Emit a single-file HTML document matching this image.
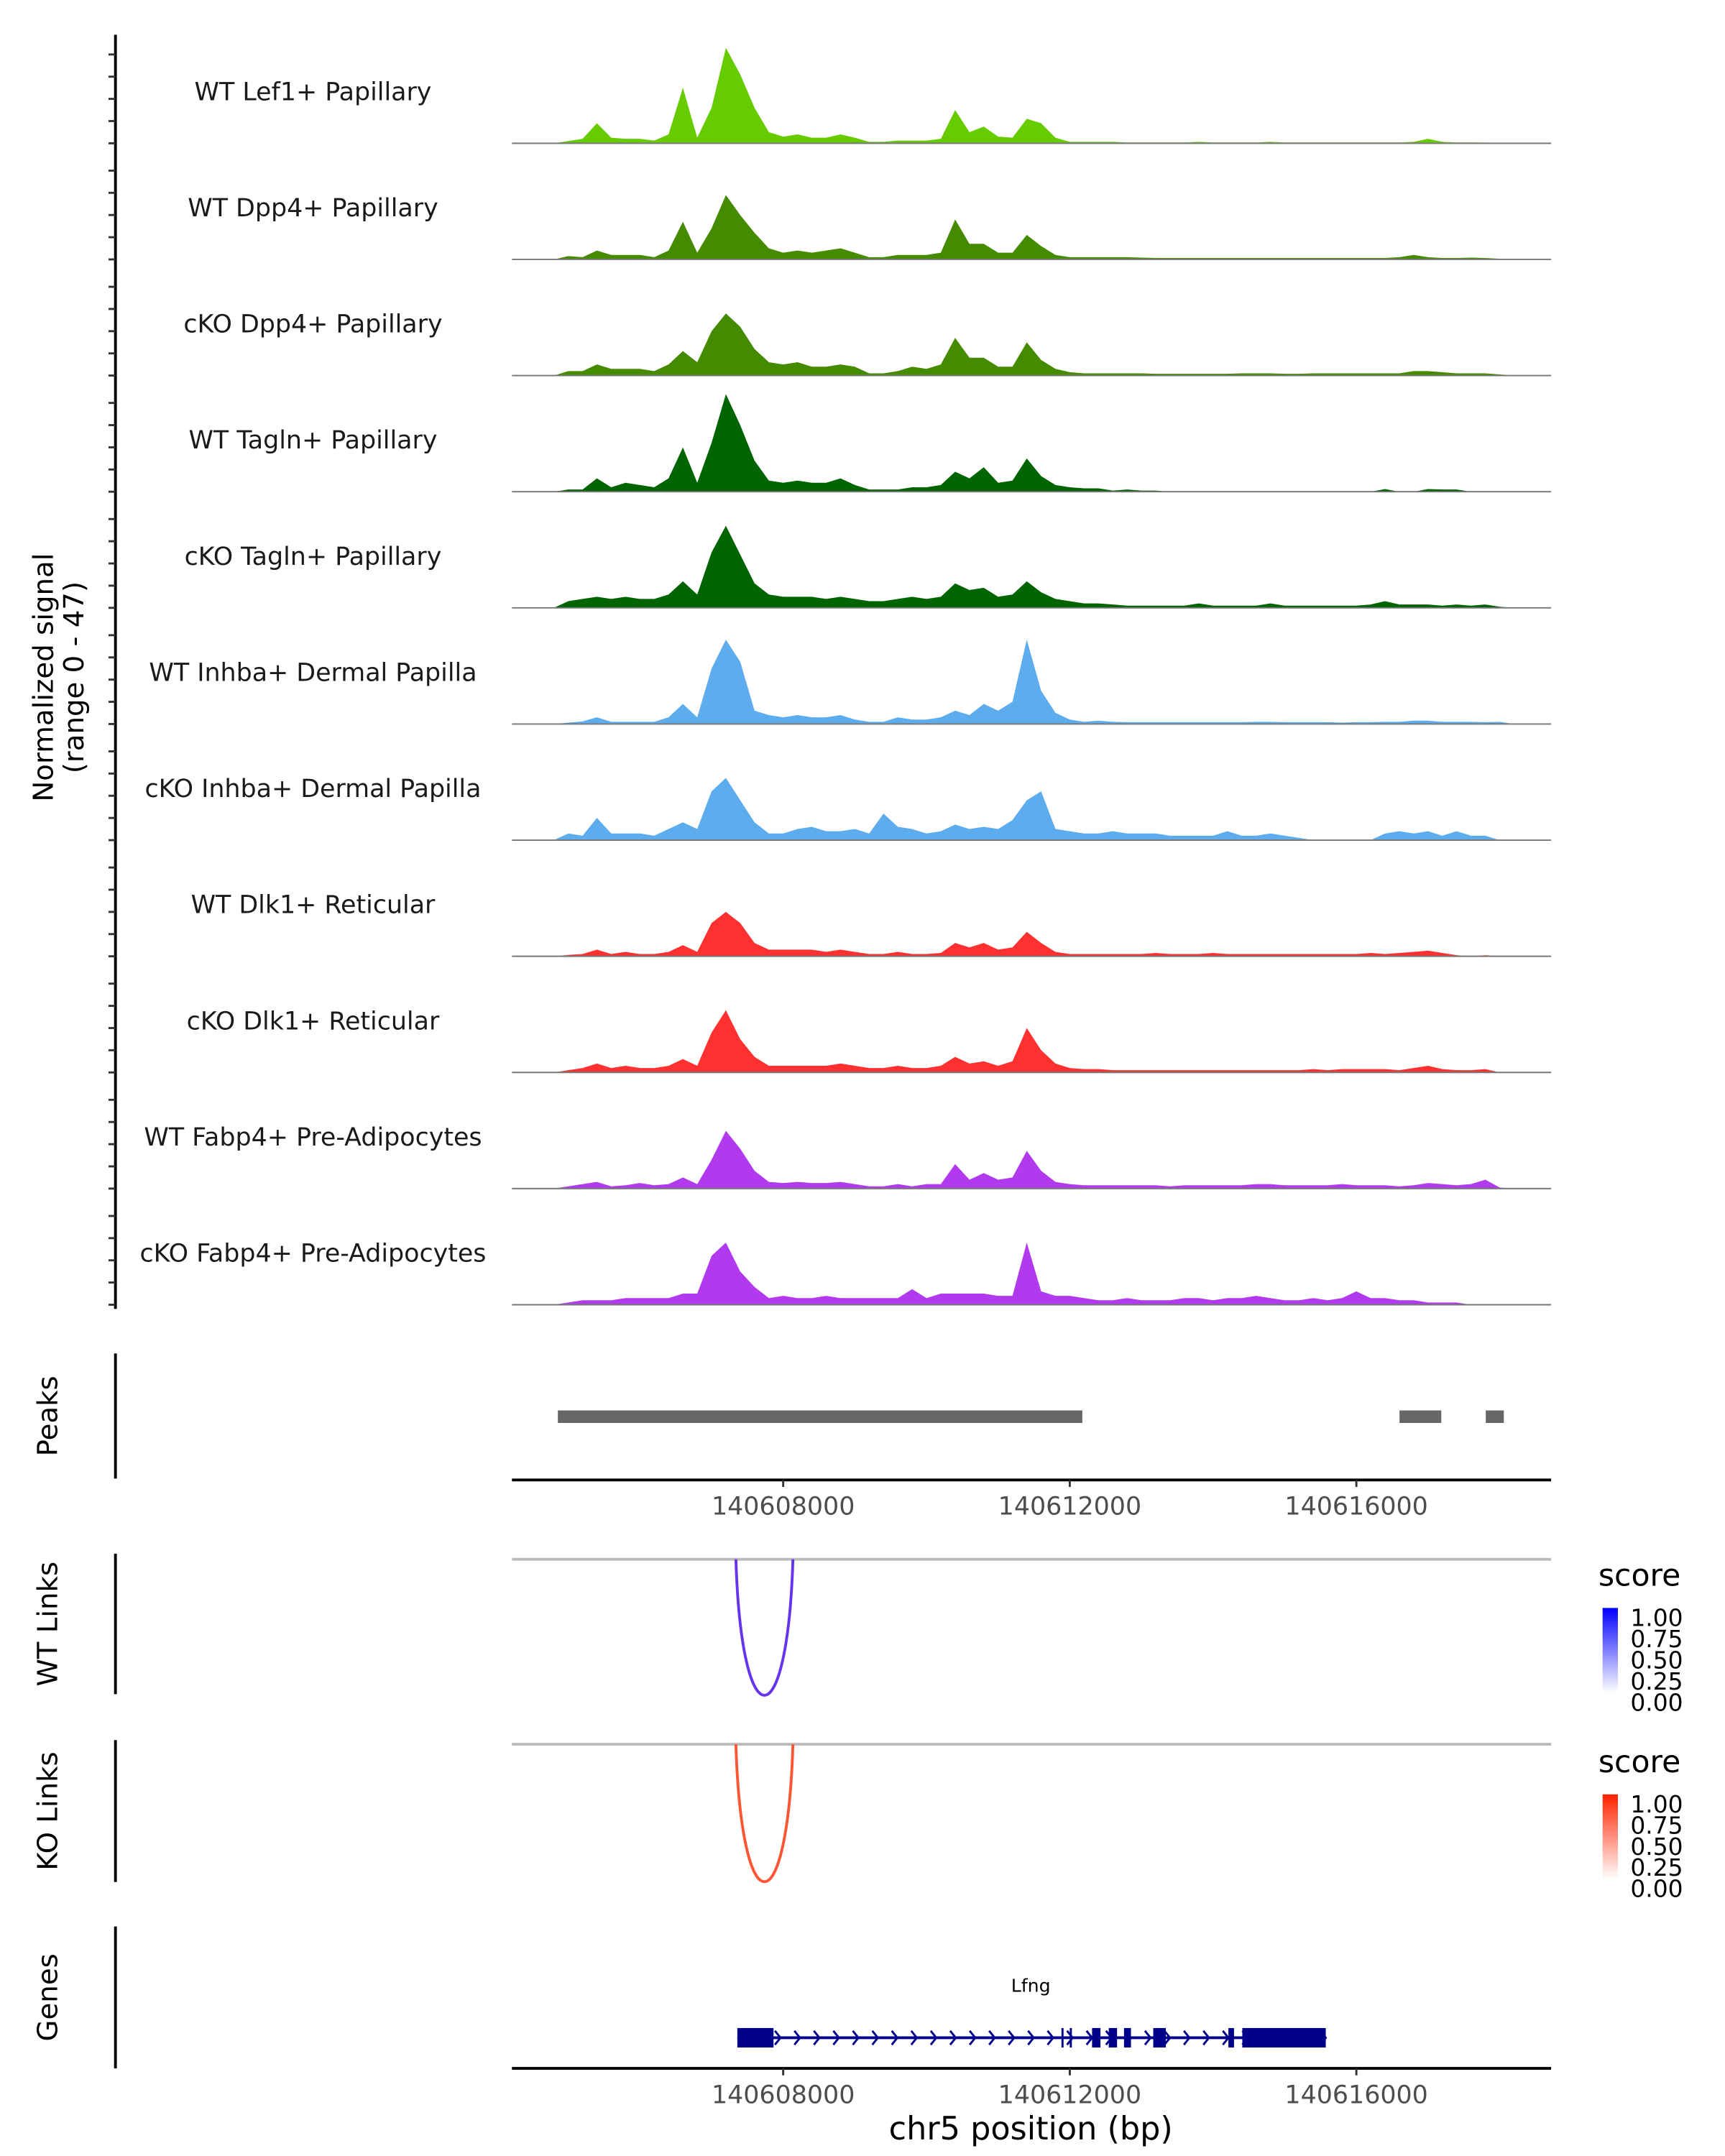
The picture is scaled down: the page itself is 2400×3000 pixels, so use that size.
<!DOCTYPE html>
<html><head><meta charset="utf-8"><title>Lfng coverage plot</title>
<style>html,body{margin:0;padding:0;background:#fff}svg{display:block}text{font-family:"DejaVu Sans","Liberation Sans",sans-serif}</style>
</head><body>
<svg id="chart" xmlns="http://www.w3.org/2000/svg" width="2400" height="3000" viewBox="0 0 1240 1550">
<g id="tracks"></g>
<g id="lower"></g>
</svg>
<script>
const regionStart = 140604214, regionEnd = 140618718;
const binStart = 140604800, binStep = 200;
const trackNames = ["WT Lef1+ Papillary","WT Dpp4+ Papillary","cKO Dpp4+ Papillary","WT Tagln+ Papillary","cKO Tagln+ Papillary","WT Inhba+ Dermal Papilla","cKO Inhba+ Dermal Papilla","WT Dlk1+ Reticular","cKO Dlk1+ Reticular","WT Fabp4+ Pre-Adipocytes","cKO Fabp4+ Pre-Adipocytes"];
const trackColors = ["#66cc00","#458b00","#458b00","#006400","#006400","#5cacee","#5cacee","#ff3030","#ff3030","#b23aee","#b23aee"];
const sigLef1WT = [0,1,2,9,2.5,2,2,1.2,4,25,2.5,16,43,31,16,5,3,4,2.5,2.5,4,2.5,0.6,0.6,1.2,1.2,1.2,2,15,5,7.5,3,2.5,11,9,2.5,0.6,0.6,0.6,0.6,0.4,0.4,0.4,0.4,0.4,0.6,0.4,0.4,0.4,0.4,0.6,0.4,0.4,0.4,0.4,0.4,0.4,0.4,0.4,0.4,0.6,2,0.6,0.4,0.4,0.3,0,0,0,0,0];
const sigDpp4WT = [0,1.5,1,4,2,2,2,1,4,17,3,14,29,20,12,5,3,4,3,4,5,3,1,1,2,2,2,3,18,7,7,3,3,11,6,2,1,1,1,1,1,0.8,0.6,0.6,0.6,0.6,0.6,0.6,0.6,0.6,0.6,0.6,0.6,0.6,0.6,0.6,0.6,0.6,0.6,1,2,1,0.6,0.6,0.8,0.6,0.3,0,0,0,0];
const sigDpp4KO = [0,2,2,5,3,3,3,2,5,11,6,20,28,22,12,6,5,6,4,4,5,4,1,1,2,4,3,5,17,8,8,4,4,15,7,3,1.5,1,1,1,1,1,0.8,0.8,0.8,0.8,0.8,0.8,1,1,1,0.8,0.8,1,1,1,1,1,1,1,2,2,1.5,1,1,1,0.5,0,0,0,0];
const sigTaglnWT = [0,1,1,6,2,4,3,2,6,20,4,22,44,30,14,5,4,5,4,4,6,3,1,1,1,2,2,3,9,6,11,4,5,15,7,3,2,1.5,1.5,0.5,1,0.5,0.5,0,0,0,0,0,0,0,0,0,0,0,0,0,0,0,1.2,0,0,1.2,1,1,0,0,0,0,0,0,0];
const sigTaglnKO = [0,3,4,5,4,5,4,4,6,12,6,25,37,24,11,6,5,5,5,4,5,4,3,3,4,5,4,5,11,8,9,5,6,12,7,4,3,2,2,1.5,1,1,1,1,1,2,1,1,1,1,2,1,1,1,1,1,1,1.5,3,1.5,1.5,1.5,1,1.5,1,1.5,0.5,0,0,0,0];
const sigInhbaWT = [0,0.6,1.2,3,1,1,1,1,3,9,3,25,38,28,6,4,3,4,3,3,4,2,1,1,3,2,2,3,6,4,9,6,10,38,15,5,2,1,1.5,1,0.8,0.8,0.8,0.8,0.8,0.8,0.8,0.8,0.8,1,1,0.8,0.8,0.8,0.8,0.6,0.8,0.8,1,1,1.5,1.5,1,1,1,0.8,1,0,0,0,0];
const sigInhbaKO = [0,3,2,10,3,3,3,2,5,8,5,22,28,18,8,3,3,5,6,4,4,5,3,12,6,5,3,4,7,5,6,5,9,18,22,5,4,3,3,4,3,3,3,2,2,2,2,4,2,2,3,2,1,0,0,0,0,0,3,4,3,4,2,4,2,2,0,0,0,0,0];
const sigDlk1WT = [0,0.6,1,3,1,2,1,1,2,5,2,15,20,15,6,3,3,3,3,2,3,2,1,1,2,1,1,1.5,6,4,6,3,4,11,6,2,1,1,1,1,1,1,1.5,1,1,1,1.5,1,1,1,1,1,1,1,1,1,1,1.5,1,1.5,2,2.5,1.5,0.5,0,0.5,0,0,0,0,0];
const sigDlk1KO = [0,1,2,4,2,3,2,2,3,6,3,18,28,15,7,3,3,3,3,3,4,3,2,2,3,2,2,3,7,4,5,3,5,20,10,4,2,1.5,1.5,1,1,1,1,1,1,1,1,1,1,1,1,1,1,1.5,1,1.5,1.5,1.5,1.5,1,2,3,1.5,1,1,1.5,0,0,0,0,0];
const sigFabp4WT = [0,1,2,3,1,1.5,2.5,1.5,2,5,2,13,26,18,8,3,2.5,3,2.5,2.5,3,2,1,1,2,1,2,2,11,4,7,4,5,17,8,3,2,1.5,1.5,1.5,1.5,1.5,1.5,1,1.5,1.5,1.5,1.5,1.5,2,2,1.5,1.5,1.5,1.5,2,1.5,1.5,1.5,1,1.5,2.5,2,1.5,2,4,0.5,0,0,0,0];
const sigFabp4KO = [0,1,2,2,2,3,3,3,3,5,5,22,28,15,8,3,4,3,3,4,3,3,3,3,3,7,3,5,5,5,5,4,4,28,6,4,4,3,2,2,3,2,2,2,3,3,2,3,3,4,3,2,2,3,2,3,6,3,3,2,2,1,1,1,0,0,0,0,0,0,0];
const signals = [sigLef1WT,sigDpp4WT,sigDpp4KO,sigTaglnWT,sigTaglnKO,sigInhbaWT,sigInhbaKO,sigDlk1WT,sigDlk1KO,sigFabp4WT,sigFabp4KO];
const yMax = 47;
const leftTicks = [0,10,20,30,40];
const xTicks = [140608000,140612000,140616000];
const peakStarts = [140604855,140616602,140617806];
const peakEnds = [140612175,140617185,140618058];
const linkStart = [140607340], linkEnd = [140608136], wtScore = [0.8], koScore = [0.8];
const exonStarts = [140607360,140611884,140612000,140612311,140612544,140612757,140613165,140614214,140614408];
const exonEnds = [140607865,140611900,140612016,140612428,140612660,140612854,140613340,140614292,140615573];
const geneStart = 140607360, geneEnd = 140615573;
const legendTicks = ["1.00","0.75","0.50","0.25","0.00"];

const NS="http://www.w3.org/2000/svg";
const X0=368, X1=1115;
function xs(bp){return X0+(bp-regionStart)/(regionEnd-regionStart)*(X1-X0);}
function mk(tag,attrs,parent,txt){const e=document.createElementNS(NS,tag);for(const k in attrs)e.setAttribute(k,attrs[k]);if(txt!==undefined)e.textContent=txt;parent.appendChild(e);return e;}
const T=document.getElementById('tracks'), L=document.getElementById('lower');
const base0=103, trackStep=83.5, trackH=75;
function ys(v,b){return b-v/yMax*trackH;}

let ax=mk('line',{x1:83,y1:25,x2:83,y2:941,stroke:'#000','stroke-width':2},T);


let yt=mk('text',{transform:'translate(41,487) rotate(-90)','text-anchor':'middle','font-size':20,fill:'#000'},T);


mk('tspan',{x:0,dy:-3},yt,'Normalized signal');
mk('tspan',{x:0,dy:22},yt,'(range 0 - 47)');

signals.forEach((s,t)=>{
  const b=base0+t*trackStep;
  const g=mk('g',{},T);
  
  
  leftTicks.forEach(v=>{const tk=mk('line',{x1:78,x2:83,y1:ys(v,b),y2:ys(v,b),stroke:'#333','stroke-width':1.5},g);
    
    });
  let d='M'+xs(binStart)+','+b;
  s.forEach((v,i)=>{d+=' L'+xs(binStart+i*binStep).toFixed(1)+','+ys(v,b).toFixed(1);});
  d+=' L'+xs(binStart+(s.length-1)*binStep).toFixed(1)+','+b+' Z';
  const p=mk('path',{d:d,fill:trackColors[t]},g);
  
  
  const bl=mk('line',{x1:X0,x2:X1,y1:b,y2:b,stroke:'#777','stroke-width':1},g);
  
  
  const lb=mk('text',{x:225,y:b-31,'text-anchor':'middle','font-size':18,fill:'#1a1a1a'},g,trackNames[t]);
  
  
});

function sideAxis(y1,y2,label,name){
  const a=mk('line',{x1:83,x2:83,y1:y1,y2:y2,stroke:'#000','stroke-width':2},L);
  
  
  const t=mk('text',{transform:'translate(41,'+((y1+y2)/2)+') rotate(-90)','text-anchor':'middle','font-size':20,fill:'#000'},L,label);
  
  
}
function xAxis(y,name){
  const a=mk('line',{x1:X0,x2:X1,y1:y,y2:y,stroke:'#000','stroke-width':2},L);
  
  
  xTicks.forEach(v=>{
    const tk=mk('line',{x1:xs(v),x2:xs(v),y1:y,y2:y+5,stroke:'#333','stroke-width':1.5},L);
    
    
    const tl=mk('text',{x:xs(v),y:y+25,'text-anchor':'middle','font-size':18,fill:'#4d4d4d'},L,String(v));
    
    
  });
}
sideAxis(973,1063,'Peaks','peaks');
peakStarts.forEach((s,i)=>{const r=mk('rect',{x:xs(s),y:1014,width:xs(peakEnds[i])-xs(s),height:9,fill:'#666'},L);
  
  });
xAxis(1064,'peaks-x-axis');

function links(top,bot,scores,col,name){
  const tl=mk('line',{x1:X0,x2:X1,y1:top,y2:top,stroke:'#bbb','stroke-width':2},L);
  
  
  linkStart.forEach((s,i)=>{
    const a=xs(s),b=xs(linkEnd[i]),depth=(bot-top)/0.75*scores[i];
    const p=mk('path',{d:`M${a},${top} C${a+4},${top+depth*1.3} ${b-4},${top+depth*1.3} ${b},${top}`,fill:'none',stroke:col,'stroke-width':2},L);
    
    
  });
}
sideAxis(1117,1218,'WT Links','wt-links');
links(1121,1215,wtScore,'#6633ee','wt-links');
sideAxis(1251,1353,'KO Links','ko-links');
links(1254,1349,koScore,'#ff5533','ko-links');

function legend(y,c,name){
  const defs=mk('defs',{},L);
  const gr=mk('linearGradient',{id:'g'+name,x1:0,y1:0,x2:0,y2:1},defs);
  mk('stop',{offset:0,'stop-color':c},gr);mk('stop',{offset:1,'stop-color':'#fff'},gr);
  const t=mk('text',{x:1149,y:y,'font-size':22,fill:'#000'},L,'score');
  
  
  const r=mk('rect',{x:1152,y:y+16,width:11,height:61,fill:'url(#g'+name+')'},L);
  
  
  legendTicks.forEach((s,i)=>{const l=mk('text',{x:1172,y:y+29+i*15.2,'font-size':17,fill:'#000'},L,s);
    
    });
}
legend(1140,'#0000ff','wt');
legend(1274,'#ff2200','ko');

sideAxis(1385,1487,'Genes','genes');
const gl=mk('line',{x1:xs(geneStart),x2:xs(geneEnd),y1:1465,y2:1465,stroke:'#00008b','stroke-width':2},L);


for(let x=xs(geneStart)+15;x<xs(geneEnd);x+=14){
  const c=mk('path',{d:`M${x-2},${1460} L${x+2},${1465} L${x-2},${1470}`,fill:'none',stroke:'#00008b','stroke-width':1.5},L);
  
  
}
exonStarts.forEach((s,i)=>{const r=mk('rect',{x:xs(s),y:1458,width:Math.max(1.5,xs(exonEnds[i])-xs(s)),height:14,fill:'#00008b'},L);
  
  });
const gn=mk('text',{x:741,y:1432,'text-anchor':'middle','font-size':13,fill:'#000'},L,'Lfng');


xAxis(1487,'genes-x-axis');
const xt=mk('text',{x:741,y:1538,'text-anchor':'middle','font-size':23,fill:'#000'},L,'chr5 position (bp)');


</script>
</body></html>
